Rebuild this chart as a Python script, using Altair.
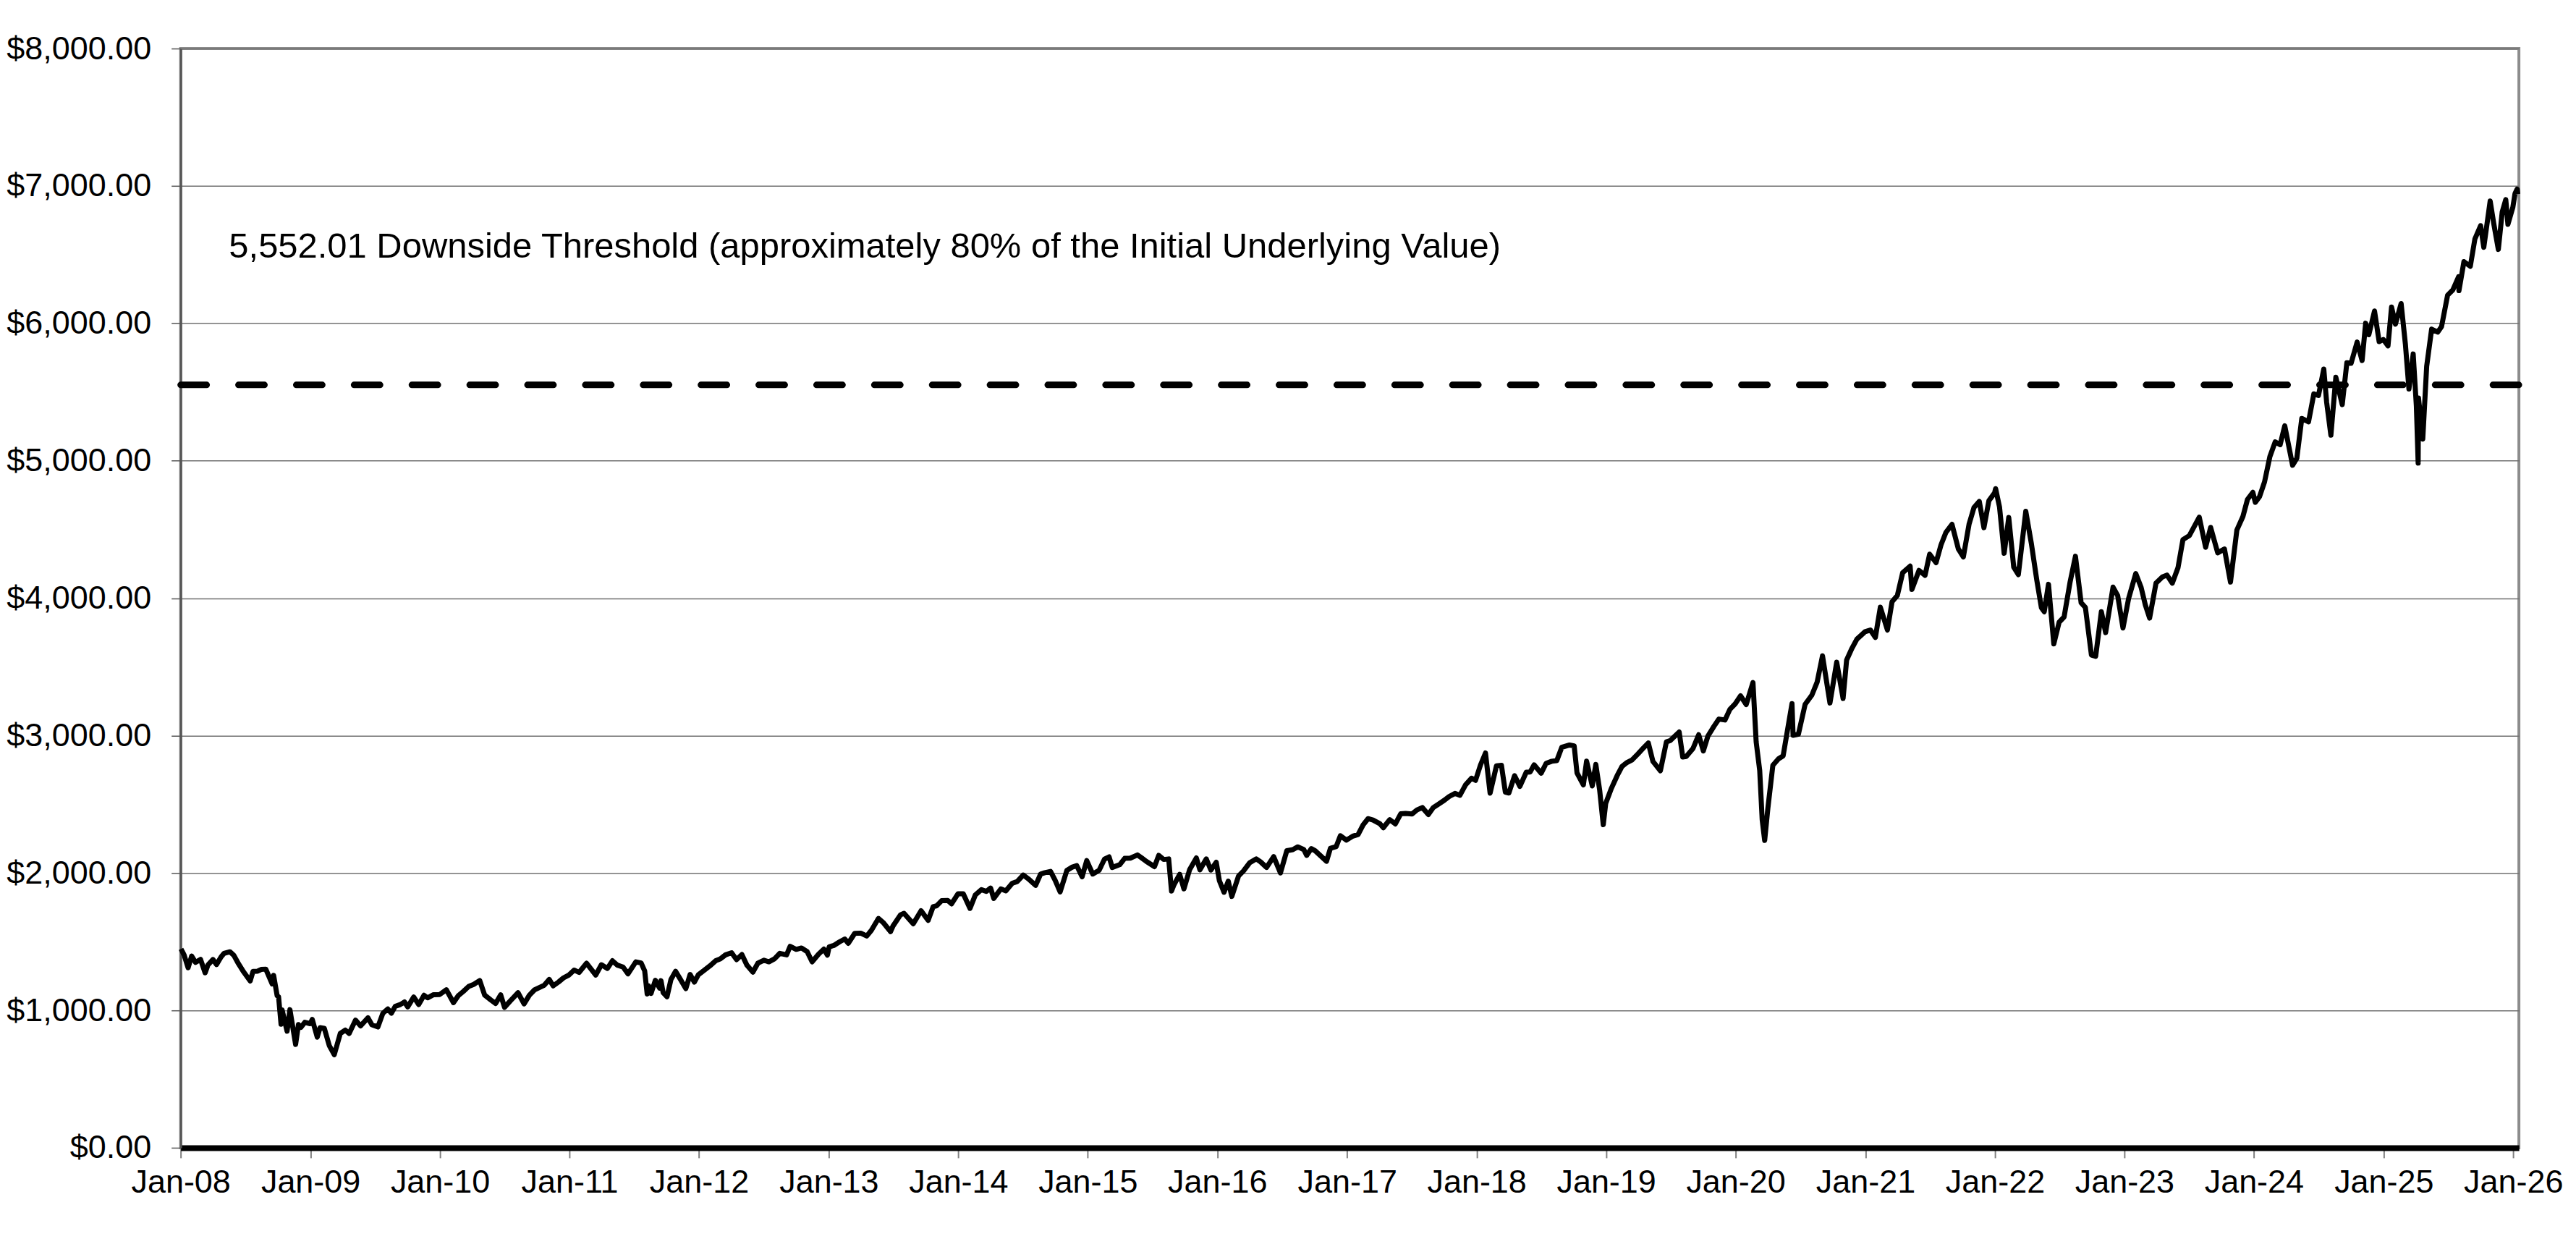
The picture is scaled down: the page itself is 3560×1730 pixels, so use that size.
import altair as alt
import pandas as pd

FONT = "Liberation Sans"

# ---- index level readings (date, value) ----
y2008 = [("2008-01-02",1447),("2008-01-11",1401),("2008-01-22",1310),("2008-02-01",1395),("2008-02-12",1349),
         ("2008-02-26",1371),("2008-03-10",1273),("2008-03-18",1330),("2008-04-01",1370),("2008-04-11",1333),
         ("2008-04-24",1389),("2008-05-02",1414),("2008-05-19",1426),("2008-05-30",1400),("2008-06-12",1339),
         ("2008-06-27",1278),("2008-07-15",1214),("2008-07-23",1283),("2008-08-05",1285),("2008-08-15",1298),
         ("2008-08-28",1300),("2008-09-15",1192),("2008-09-19",1255),("2008-09-29",1106),("2008-10-03",1099),
         ("2008-10-10",899),("2008-10-13",1003),("2008-10-27",848),("2008-11-04",1005),("2008-11-20",752),
         ("2008-11-28",896),("2008-12-05",876),("2008-12-16",913),("2008-12-31",903)]
y2009 = [("2009-01-06",934),("2009-01-20",805),("2009-01-28",874),("2009-02-09",869),("2009-02-23",743),
         ("2009-03-09",677),("2009-03-26",832),("2009-04-09",856),("2009-04-20",832),("2009-05-08",929),
         ("2009-05-22",887),("2009-06-12",946),("2009-06-23",895),("2009-07-10",879),("2009-07-24",979),
         ("2009-08-07",1010),("2009-08-17",979),("2009-08-28",1029),("2009-09-11",1042),("2009-09-23",1061),
         ("2009-10-02",1025),("2009-10-19",1097),("2009-11-02",1042),("2009-11-17",1110),("2009-11-27",1091),
         ("2009-12-14",1114),("2009-12-31",1115)]
y2010 = [("2010-01-19",1150),("2010-02-08",1056),("2010-02-22",1108),("2010-03-08",1138),("2010-03-23",1174),
         ("2010-04-06",1189),("2010-04-23",1217),("2010-05-07",1111),("2010-05-25",1074),("2010-06-07",1050),
         ("2010-06-21",1113),("2010-07-02",1022),("2010-07-19",1071),("2010-08-09",1128),("2010-08-26",1047),
         ("2010-09-10",1110),("2010-09-24",1148),("2010-10-08",1166),("2010-10-22",1183),("2010-11-05",1225),
         ("2010-11-16",1178),("2010-12-01",1206),("2010-12-15",1236),("2010-12-31",1258)]
y2011 = [("2011-01-14",1293),("2011-01-28",1276),("2011-02-18",1343),("2011-03-01",1306),("2011-03-16",1257),
         ("2011-04-01",1332),("2011-04-18",1305),("2011-05-02",1361),("2011-05-16",1329),("2011-06-01",1315),
         ("2011-06-15",1266),("2011-07-07",1353),("2011-07-22",1345),("2011-08-01",1287),("2011-08-08",1119),
         ("2011-08-12",1179),("2011-08-19",1123),("2011-08-31",1219),("2011-09-12",1162),("2011-09-16",1216),
         ("2011-09-22",1129),("2011-10-03",1099),("2011-10-14",1224),("2011-10-27",1284),("2011-11-09",1229),
         ("2011-11-25",1158),("2011-12-07",1261),("2011-12-19",1206),("2011-12-30",1258)]
y2012 = [("2012-01-17",1294),("2012-02-01",1324),("2012-02-17",1361),("2012-03-01",1374),("2012-03-16",1404),
         ("2012-04-02",1419),("2012-04-16",1369),("2012-05-01",1406),("2012-05-15",1330),("2012-06-01",1278),
         ("2012-06-15",1343),("2012-07-02",1365),("2012-07-16",1353),("2012-08-01",1375),("2012-08-16",1415),
         ("2012-09-04",1404),("2012-09-14",1466),("2012-10-01",1444),("2012-10-16",1454),("2012-11-01",1427),
         ("2012-11-15",1353),("2012-12-03",1409),("2012-12-18",1446),("2012-12-28",1402)]
y2013 = [("2013-01-02",1462),("2013-01-15",1472),("2013-01-31",1498),("2013-02-15",1519),("2013-02-25",1488),
         ("2013-03-15",1560),("2013-04-01",1562),("2013-04-18",1541),("2013-05-01",1582),("2013-05-21",1669),
         ("2013-06-03",1640),("2013-06-24",1573),("2013-07-01",1614),("2013-07-22",1695),("2013-08-01",1706),
         ("2013-08-27",1630),("2013-09-18",1725),("2013-10-08",1655),("2013-10-22",1754),("2013-11-01",1761),
         ("2013-11-15",1798),("2013-12-02",1800),("2013-12-13",1775),("2013-12-31",1848)]
y2014 = [("2014-01-15",1848),("2014-02-03",1742),("2014-02-18",1840),("2014-03-07",1878),("2014-03-21",1866),
         ("2014-04-02",1890),("2014-04-11",1815),("2014-05-01",1884),("2014-05-15",1870),("2014-06-02",1925),
         ("2014-06-16",1937),("2014-07-03",1985),("2014-07-17",1958),("2014-08-07",1910),("2014-08-21",1992),
         ("2014-09-02",2002),("2014-09-18",2011),("2014-10-01",1946),("2014-10-15",1862),("2014-11-03",2018),
         ("2014-11-17",2041),("2014-12-01",2053),("2014-12-16",1972),("2014-12-29",2090)]
y2015 = [("2015-01-15",1992),("2015-02-02",2020),("2015-02-17",2100),("2015-03-02",2117),("2015-03-11",2040),
         ("2015-04-01",2060),("2015-04-15",2106),("2015-05-01",2108),("2015-05-21",2131),("2015-06-01",2111),
         ("2015-06-15",2084),("2015-07-08",2046),("2015-07-20",2128),("2015-08-03",2098),("2015-08-17",2102),
         ("2015-08-25",1868),("2015-09-01",1914),("2015-09-17",1990),("2015-09-29",1884),("2015-10-15",2023),
         ("2015-11-03",2109),("2015-11-13",2023),("2015-12-01",2102),("2015-12-14",2021),("2015-12-29",2078)]
y2016 = [("2016-01-07",1943),("2016-01-20",1859),("2016-02-01",1940),("2016-02-11",1829),("2016-03-01",1978),
         ("2016-03-15",2015),("2016-04-01",2073),("2016-04-20",2102),("2016-05-02",2081),("2016-05-19",2040),
         ("2016-06-08",2119),("2016-06-27",2000),("2016-07-15",2162),("2016-08-01",2170),("2016-08-15",2190),
         ("2016-09-01",2170),("2016-09-09",2128),("2016-09-22",2177),("2016-10-03",2161),("2016-11-04",2085),
         ("2016-11-15",2180),("2016-12-01",2191),("2016-12-13",2271),("2016-12-30",2239)]
y2017 = [("2017-01-17",2268),("2017-02-01",2280),("2017-02-15",2349),("2017-03-01",2395),("2017-03-15",2385),
         ("2017-04-03",2359),("2017-04-13",2329),("2017-05-01",2388),("2017-05-17",2357),("2017-06-01",2430),
         ("2017-06-15",2433),("2017-07-03",2429),("2017-07-17",2459),("2017-08-01",2476),("2017-08-18",2425),
         ("2017-09-01",2476),("2017-09-15",2500),("2017-10-02",2529),("2017-10-16",2557),("2017-11-01",2579),
         ("2017-11-15",2565),("2017-12-01",2642),("2017-12-18",2690),("2017-12-29",2674)]
y2018 = [("2018-01-12",2786),("2018-01-26",2873),("2018-02-08",2581),("2018-02-26",2780),("2018-03-12",2783),
         ("2018-03-23",2588),("2018-04-02",2582),("2018-04-18",2708),("2018-05-03",2630),("2018-05-21",2733),
         ("2018-06-01",2735),("2018-06-12",2787),("2018-07-02",2726),("2018-07-16",2798),("2018-08-01",2813),
         ("2018-08-15",2818),("2018-08-29",2914),("2018-09-20",2931),("2018-10-03",2925),("2018-10-11",2728),
         ("2018-10-29",2641),("2018-11-07",2814),("2018-11-23",2633),("2018-12-03",2790),("2018-12-14",2600),
         ("2018-12-24",2351),("2018-12-31",2507)]
y2019 = [("2019-01-15",2610),("2019-02-01",2707),("2019-02-15",2776),("2019-03-01",2804),("2019-03-15",2822),
         ("2019-04-01",2867),("2019-04-15",2906),("2019-04-30",2946),("2019-05-13",2812),("2019-06-03",2744),
         ("2019-06-20",2954),("2019-07-01",2964),("2019-07-26",3026),("2019-08-05",2844),("2019-08-15",2848),
         ("2019-09-03",2906),("2019-09-19",3006),("2019-10-02",2888),("2019-10-15",2996),("2019-11-01",3067),
         ("2019-11-15",3120),("2019-12-02",3113),("2019-12-16",3191),("2019-12-31",3231)]
y2020 = [("2020-01-15",3289),("2020-01-31",3226),("2020-02-19",3386),("2020-02-28",2954),("2020-03-09",2746),
         ("2020-03-16",2386),("2020-03-23",2237),("2020-04-01",2471),("2020-04-15",2783),("2020-05-01",2831),
         ("2020-05-14",2852),("2020-06-08",3232),("2020-06-11",3002),("2020-06-26",3009),("2020-07-15",3227),
         ("2020-08-03",3294),("2020-08-18",3390),("2020-09-02",3580),("2020-09-23",3237),("2020-10-12",3534),
         ("2020-10-30",3270),("2020-11-09",3550),("2020-11-24",3635),("2020-12-08",3702),("2020-12-31",3756)]
y2021 = [("2021-01-15",3768),("2021-01-29",3714),("2021-02-12",3934),("2021-03-04",3768),("2021-03-17",3974),
         ("2021-04-01",4020),("2021-04-16",4185),("2021-05-07",4233),("2021-05-12",4063),("2021-06-01",4202),
         ("2021-06-18",4166),("2021-07-01",4320),("2021-07-19",4258),("2021-08-02",4387),("2021-08-16",4479),
         ("2021-09-02",4537),("2021-09-20",4358),("2021-10-04",4300),("2021-10-20",4537),("2021-11-03",4660),
         ("2021-11-18",4704),("2021-12-01",4513),("2021-12-15",4709),("2021-12-31",4766)]
y2022 = [("2022-01-03",4797),("2022-01-14",4663),("2022-01-27",4326),("2022-02-09",4587),("2022-02-23",4226),
         ("2022-03-08",4171),("2022-03-29",4632),("2022-04-14",4393),("2022-04-29",4132),("2022-05-12",3930),
         ("2022-05-20",3901),("2022-06-01",4101),("2022-06-16",3667),("2022-07-01",3825),("2022-07-15",3863),
         ("2022-08-01",4119),("2022-08-16",4305),("2022-09-01",3966),("2022-09-13",3932),("2022-09-30",3586),
         ("2022-10-12",3577),("2022-10-28",3901),("2022-11-09",3749),("2022-11-30",4080),("2022-12-13",4019),
         ("2022-12-28",3783)]
y2023 = [("2023-01-13",3999),("2023-02-02",4179),("2023-02-17",4079),("2023-03-01",3951),("2023-03-13",3855),
         ("2023-03-31",4109),("2023-04-18",4154),("2023-05-01",4168),("2023-05-16",4109),("2023-06-01",4221),
         ("2023-06-15",4426),("2023-07-03",4455),("2023-07-31",4589),("2023-08-18",4370),("2023-09-01",4515),
         ("2023-09-21",4330),("2023-10-10",4358),("2023-10-27",4117),("2023-11-14",4496),("2023-12-01",4594),
         ("2023-12-14",4719),("2023-12-29",4770)]
y2024 = [("2024-01-05",4697),("2024-01-17",4739),("2024-01-31",4846),("2024-02-15",5030),("2024-03-01",5137),
         ("2024-03-15",5117),("2024-03-28",5254),("2024-04-19",4967),("2024-05-01",5018),("2024-05-15",5308),
         ("2024-06-03",5283),("2024-06-18",5487),("2024-07-01",5475),("2024-07-16",5667),("2024-07-24",5427),
         ("2024-08-05",5186),("2024-08-19",5608),("2024-09-06",5408),("2024-09-19",5713),("2024-10-01",5709),
         ("2024-10-18",5864),("2024-11-01",5729),("2024-11-11",6001),("2024-11-20",5917),("2024-12-06",6090),
         ("2024-12-19",5867),("2024-12-31",5882)]
y2025 = [("2025-01-13",5836),("2025-01-23",6119),("2025-02-03",5994),("2025-02-19",6144),("2025-03-03",5850),
         ("2025-03-13",5522),("2025-03-25",5777),("2025-04-03",5397),("2025-04-08",4983),("2025-04-09",5457),
         ("2025-04-21",5158),("2025-05-02",5687),("2025-05-16",5958),("2025-06-02",5936),("2025-06-13",5977),
         ("2025-06-30",6205),("2025-07-15",6244),("2025-07-31",6339),("2025-08-01",6238),("2025-08-15",6449),
         ("2025-09-02",6415),("2025-09-15",6615),("2025-10-01",6711),("2025-10-10",6553),("2025-10-28",6890),
         ("2025-11-07",6728),("2025-11-20",6538),("2025-12-01",6812),("2025-12-11",6901),("2025-12-17",6721),
         ("2025-12-31",6846)]
y2026 = [("2026-01-06",6944),("2026-01-12",6977),("2026-01-14",6940)]

threshold_value = 5552.01
threshold_label = "5,552.01 Downside Threshold (approximately 80% of the Initial Underlying Value)"
label_date = "2008-05-16"
label_value = 6480

tick_years = list(range(2008, 2027))
y_ticks = [0, 1000, 2000, 3000, 4000, 5000, 6000, 7000, 8000]

rows = (y2008 + y2009 + y2010 + y2011 + y2012 + y2013 + y2014 + y2015 + y2016 +
        y2017 + y2018 + y2019 + y2020 + y2021 + y2022 + y2023 + y2024 + y2025 + y2026)
df = pd.DataFrame(rows, columns=["date", "value"])

x_scale = alt.Scale(
    type="utc",
    domain=[alt.DateTime(year=2008, month=1, date=1, utc=True),
            alt.DateTime(year=2026, month=1, date=17, utc=True)],
)
y_scale = alt.Scale(domain=[0, 8000], nice=False)

x_axis = alt.Axis(
    title=None,
    values=[alt.DateTime(year=y, month=1, date=1, utc=True) for y in tick_years],
    labelExpr="utcFormat(datum.value, '%b-%y')",
    labelFont=FONT, labelFontSize=45, labelColor="black",
    labelPadding=12, labelFlush=False, labelOverlap=False, labelLimit=0,
    domainColor="black", domainWidth=8,
    tickColor="#808080", tickWidth=2, tickSize=14,
    grid=False,
)
y_axis = alt.Axis(
    title=None,
    values=y_ticks, format="$,.2f",
    labelFont=FONT, labelFontSize=45, labelColor="black",
    labelPadding=28, labelLimit=0,
    domainColor="#555555", domainWidth=3,
    tickColor="#555555", tickWidth=1.5, tickSize=13,
    grid=True, gridColor="#707070", gridWidth=1.5,
)

line = alt.Chart(df).mark_line(color="black", strokeWidth=7, strokeJoin="round").encode(
    x=alt.X("date:T", scale=x_scale, axis=x_axis),
    y=alt.Y("value:Q", scale=y_scale, axis=y_axis),
)

thr = alt.Chart(pd.DataFrame({"value": [threshold_value]})).mark_rule(
    color="black", strokeWidth=9, strokeDash=[36, 44], strokeCap="round"
).encode(y=alt.Y("value:Q", scale=y_scale))

txt = alt.Chart(pd.DataFrame({"date": [label_date], "value": [label_value], "label": [threshold_label]})).mark_text(
    align="left", baseline="alphabetic", font=FONT, fontSize=49, color="black"
).encode(
    x=alt.X("date:T", scale=x_scale),
    y=alt.Y("value:Q", scale=y_scale),
    text="label:N",
)

chart = alt.layer(line, thr, txt).properties(
    width=3236, height=1521,
    padding={"left": 0, "top": 36, "right": 10, "bottom": 0},
    background="white",
).configure_view(stroke="#8c8c8c", strokeWidth=4)

chart.save("out.html", embed_options={"renderer": "svg", "actions": False})
